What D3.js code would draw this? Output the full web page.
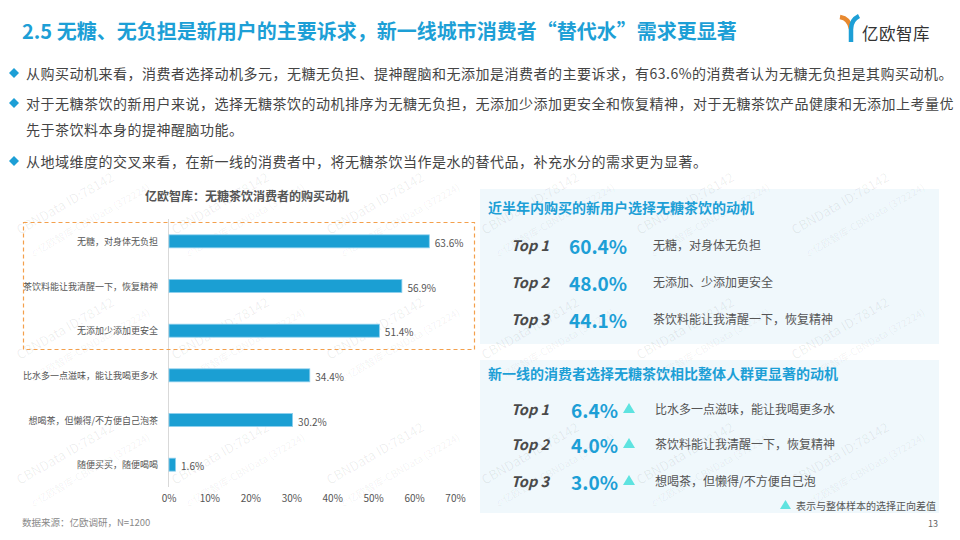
<!DOCTYPE html>
<html>
<head>
<meta charset="utf-8">
<script src="https://cdn.jsdelivr.net/npm/d3@7"></script>
<style>
  html, body { margin: 0; padding: 0; background: #fff; }
  svg { display: block; }
  text { font-family: "Noto Sans CJK SC", "Noto Sans", sans-serif; }
</style>
</head>
<body>
<svg id="c" width="960" height="540"></svg>
<script>
// ---------- data ----------
const pageTitle = "2.5 无糖、无负担是新用户的主要诉求，新一线城市消费者“替代水”需求更显著";
const bullets = [
  ["从购买动机来看，消费者选择动机多元，无糖无负担、提神醒脑和无添加是消费者的主要诉求，有63.6%的消费者认为无糖无负担是其购买动机。"],
  ["对于无糖茶饮的新用户来说，选择无糖茶饮的动机排序为无糖无负担，无添加少添加更安全和恢复精神，对于无糖茶饮产品健康和无添加上考量优", "先于茶饮料本身的提神醒脑功能。"],
  ["从地域维度的交叉来看，在新一线的消费者中，将无糖茶饮当作是水的替代品，补充水分的需求更为显著。"]
];
const chartTitle = "亿欧智库：无糖茶饮消费者的购买动机";
const categories = ["无糖，对身体无负担", "茶饮料能让我清醒一下，恢复精神", "无添加少添加更安全", "比水多一点滋味，能让我喝更多水", "想喝茶，但懒得/不方便自己泡茶", "随便买买，随便喝喝"];
const values = [63.6, 56.9, 51.4, 34.4, 30.2, 1.6];
const xTicks = [0, 10, 20, 30, 40, 50, 60, 70];

const panel1Title = "近半年内购买的新用户选择无糖茶饮的动机";
const ranks = ["Top 1", "Top 2", "Top 3"];
const newUserValues = [60.4, 48.0, 44.1];
const newUserLabels = ["无糖，对身体无负担", "无添加、少添加更安全", "茶饮料能让我清醒一下，恢复精神"];

const panel2Title = "新一线的消费者选择无糖茶饮相比整体人群更显著的动机";
const tier1Values = [6.4, 4.0, 3.0];
const tier1Labels = ["比水多一点滋味，能让我喝更多水", "茶饮料能让我清醒一下，恢复精神", "想喝茶，但懒得/不方便自己泡"];
const legendNote = "表示与整体样本的选择正向差值";
const source = "数据来源：亿欧调研，N=1200";
const pageNo = "13";

// ---------- drawing ----------
const svg = d3.select("#c");
const blue = "#1d9fd6";
const grayText = "#555";

// panels background
svg.append("rect").attr("x", 480).attr("y", 189).attr("width", 459).attr("height", 155).attr("fill", "#f0f8fc");
svg.append("rect").attr("x", 480).attr("y", 360).attr("width", 459).attr("height", 153).attr("fill", "#f0f8fc");

// watermarks (kept fully inside the page)
const wm = svg.append("g").attr("pointer-events", "none");
for (let gx = 20; gx < 900; gx += 155) {
  for (let gy = 235; gy < 520; gy += 125) {
    const g = wm.append("g").attr("transform", `translate(${gx},${gy}) rotate(-30)`);
    g.append("text").text("CBNData ID:78142").attr("font-size", 13)
      .attr("fill", "#000").attr("fill-opacity", 0.07).attr("font-family", "Open Sans, sans-serif");
    g.append("text").text("©亿欧智库-CBNData (372224)").attr("x", 0).attr("y", 26).attr("font-size", 10)
      .attr("fill", "#000").attr("fill-opacity", 0.06);
  }
}

// page title
svg.append("text").text(pageTitle).attr("x", 22).attr("y", 30)
  .attr("dominant-baseline", "central").attr("font-size", 20).attr("font-weight", 700).attr("fill", blue);

// logo
const logo = svg.append("g");
logo.append("path").attr("d", "M840,17 C846,18 850,22 851,29").attr("stroke", "#e8892f").attr("stroke-width", 4.5).attr("fill", "none");
logo.append("path").attr("d", "M859,16 C853,19 851,23 851,29 L851,42").attr("stroke", "#1d9fd6").attr("stroke-width", 4.5).attr("fill", "none");
logo.append("text").text("亿欧智库").attr("x", 862).attr("y", 33).attr("dominant-baseline", "central")
  .attr("font-size", 16.5).attr("fill", "#333").attr("letter-spacing", 0.5);

// bullets
const bulletY = [[73], [103, 129], [161]];
bullets.forEach((lines, i) => {
  const y0 = bulletY[i][0];
  svg.append("path").attr("d", `M${14},${y0 - 5} L${19},${y0} L${14},${y0 + 5} L${9},${y0} Z`).attr("fill", blue);
  lines.forEach((ln, j) => {
    svg.append("text").text(ln).attr("x", 26).attr("y", bulletY[i][j])
      .attr("dominant-baseline", "central").attr("font-size", 14).attr("fill", "#444").attr("letter-spacing", 0.5);
  });
});

// chart title
svg.append("text").text(chartTitle).attr("x", 247).attr("y", 195).attr("text-anchor", "middle")
  .attr("dominant-baseline", "central").attr("font-size", 12).attr("font-weight", 700).attr("fill", "#555");

// scales
const x = d3.scaleLinear().domain([0, 70]).range([168.5, 455]);
const y = d3.scaleBand().domain(categories).range([219, 487]).padding(0);
const barH = 13;

// axis line
svg.append("line").attr("x1", x(0)).attr("x2", x(0)).attr("y1", 219).attr("y2", 487)
  .attr("stroke", "#d9d9d9").attr("stroke-width", 1);

// bars
svg.append("g").selectAll("rect").data(values).join("rect")
  .attr("x", x(0) + 0.5)
  .attr("y", (d, i) => y(categories[i]) + y.bandwidth() / 2 - barH / 2)
  .attr("width", d => x(d) - x(0))
  .attr("height", barH)
  .attr("fill", "#1b9fd3")
  .attr("stroke", "#8fd0ee").attr("stroke-width", 0.8);

// value labels
svg.append("g").selectAll("text").data(values).join("text")
  .attr("x", d => x(d) + 6)
  .attr("y", (d, i) => y(categories[i]) + y.bandwidth() / 2 + 1)
  .attr("dominant-baseline", "central")
  .attr("font-size", 10).attr("fill", grayText)
  .text(d => d.toFixed(1) + "%");

// category labels
svg.append("g").selectAll("text").data(categories).join("text")
  .attr("x", 158)
  .attr("y", d => y(d) + y.bandwidth() / 2)
  .attr("text-anchor", "end").attr("dominant-baseline", "central")
  .attr("font-size", 9).attr("fill", grayText)
  .text(d => d);

// x axis tick labels
const xAxis = d3.axisBottom(x).tickValues(xTicks).tickFormat(d => d + "%").tickSize(0).tickPadding(0);
const ax = svg.append("g").attr("transform", "translate(0,495)").call(xAxis);
ax.select(".domain").remove();
ax.selectAll("text").attr("font-size", 10).attr("fill", grayText)
  .attr("font-family", "Noto Sans CJK SC, sans-serif");

// orange dashed box
svg.append("rect").attr("x", 23.5).attr("y", 222.5).attr("width", 451).attr("height", 127)
  .attr("fill", "none").attr("stroke", "#f4a04c").attr("stroke-width", 1.2).attr("stroke-dasharray", "4,3");

// panel 1
svg.append("text").text(panel1Title).attr("x", 488).attr("y", 207).attr("dominant-baseline", "central")
  .attr("font-size", 14).attr("font-weight", 700).attr("fill", blue);
const p1Y = [244, 281, 318];
ranks.forEach((r, i) => {
  svg.append("text").text(r).attr("x", 511).attr("y", p1Y[i]).attr("dominant-baseline", "central")
    .attr("font-family", "Open Sans, sans-serif").attr("font-style", "italic").attr("font-weight", 700)
    .attr("font-size", 14.5).attr("fill", "#4a4a4a");
  svg.append("text").text(newUserValues[i].toFixed(1) + "%").attr("x", 569).attr("y", p1Y[i] + 1).attr("dominant-baseline", "central")
    .attr("font-size", 19).attr("font-weight", 700).attr("fill", blue);
  svg.append("text").text(newUserLabels[i]).attr("x", 653).attr("y", p1Y[i]).attr("dominant-baseline", "central")
    .attr("font-size", 12).attr("fill", grayText);
});

// panel 2
svg.append("text").text(panel2Title).attr("x", 488).attr("y", 373).attr("dominant-baseline", "central")
  .attr("font-size", 14).attr("font-weight", 700).attr("fill", blue);
const p2Y = [408, 443, 480];
const teal = "#5ee3e0";
ranks.forEach((r, i) => {
  svg.append("text").text(r).attr("x", 511).attr("y", p2Y[i]).attr("dominant-baseline", "central")
    .attr("font-family", "Open Sans, sans-serif").attr("font-style", "italic").attr("font-weight", 700)
    .attr("font-size", 14.5).attr("fill", "#4a4a4a");
  svg.append("text").text(tier1Values[i].toFixed(1) + "%").attr("x", 618).attr("y", p2Y[i] + 1).attr("text-anchor", "end")
    .attr("dominant-baseline", "central").attr("font-size", 19).attr("font-weight", 700).attr("fill", blue);
  const cx = 629, cy = p2Y[i];
  svg.append("path").attr("d", `M${cx - 6},${cy + 5} L${cx + 6},${cy + 5} L${cx},${cy - 5} Z`).attr("fill", teal);
  svg.append("text").text(tier1Labels[i]).attr("x", 655).attr("y", p2Y[i]).attr("dominant-baseline", "central")
    .attr("font-size", 12).attr("fill", grayText);
});
// legend note
svg.append("path").attr("d", `M780,509 L791,509 L785.5,500 Z`).attr("fill", teal);
svg.append("text").text(legendNote).attr("x", 796).attr("y", 505).attr("dominant-baseline", "central")
  .attr("font-size", 10).attr("fill", grayText);

// footer
svg.append("text").text(source).attr("x", 22).attr("y", 522).attr("dominant-baseline", "central")
  .attr("font-size", 9.5).attr("fill", "#888");
svg.append("text").text(pageNo).attr("x", 938).attr("y", 523).attr("text-anchor", "end").attr("dominant-baseline", "central")
  .attr("font-size", 9).attr("fill", "#666");
</script>
</body>
</html>
